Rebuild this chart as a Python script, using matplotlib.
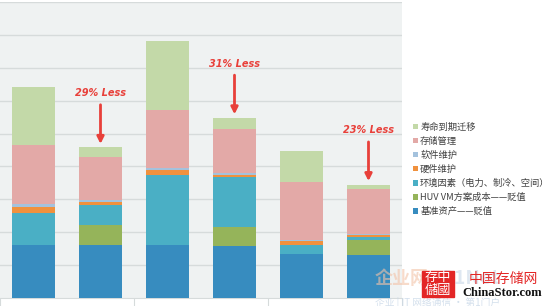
import numpy as np
import matplotlib.pyplot as plt
from matplotlib.patches import Rectangle

plt.rcParams['font.family'] = ['Noto Sans CJK SC', 'DejaVu Sans']

# stacked segments, bottom to top, six bars (3 groups of 2)
series = ['基准资产——贬值', 'HUV VM方案成本——贬值', '环境因素（电力、制冷、空间）',
          '硬件维护', '软件维护', '存储管理', '寿命到期迁移']
base_asset = [1.61, 1.61, 1.61, 1.58, 1.33, 1.30]
huv_vm = [0.0, 0.60, 0.0, 0.57, 0.0, 0.46]
environment = [0.97, 0.61, 2.12, 1.52, 0.28, 0.09]
hardware = [0.18, 0.09, 0.15, 0.06, 0.12, 0.06]
software = [0.09, 0.06, 0.06, 0.06, 0.03, 0.03]
storage_mgmt = [1.79, 1.33, 1.79, 1.36, 1.76, 1.36]
migration = [1.78, 0.28, 2.09, 0.33, 0.96, 0.15]
colors = ['#378cbf', '#95b45a', '#4aafc5', '#f0913e', '#a4c2dd', '#e3a9a7', '#c3d9a8']

notes = ['29% Less', '31% Less', '23% Less']
note_bars = [1, 3, 5]

values = [base_asset, huv_vm, environment, hardware, software, storage_mgmt, migration]
x = np.arange(6) + 0.5

fig = plt.figure(figsize=(5.54, 3.06), dpi=100)
ax = fig.add_axes([0.0, 8 / 306, 402 / 554, 296 / 306])
ax.set_facecolor('#eff2f2')

bottom = np.zeros(6)
for vals, col, name in zip(values, colors, series):
    ax.bar(x, vals, 0.64, bottom=bottom, color=col, label=name, zorder=3)
    bottom += np.array(vals)

ax.set_xlim(0, 6)
ax.set_ylim(0, 9)
ax.set_yticks(np.arange(1, 10))
ax.yaxis.grid(True, color='#d6dbdb', linewidth=1.0, zorder=0)
ax.tick_params(axis='y', left=False, labelleft=False)
ax.set_xticks([0, 2, 4, 6])
ax.tick_params(axis='x', direction='out', length=8, color='#d6dbdb', labelbottom=False)
for s in ['top', 'right', 'left']:
    ax.spines[s].set_visible(False)
ax.spines['bottom'].set_color('#d6dbdb')

for txt, b in zip(notes, note_bars):
    top = bottom[b]
    ax.annotate('', xy=(x[b], top + 0.02), xytext=(x[b], top + 1.38),
                arrowprops=dict(arrowstyle='-|>', color='#e8403a', lw=2.0,
                                mutation_scale=10), zorder=5)
    ax.text(x[b], top + 1.65, txt, color='#e8403a', fontsize=7, fontweight='bold',
            fontstyle='italic', ha='center', va='center', family='DejaVu Sans')

handles, labels = ax.get_legend_handles_labels()
leg = fig.legend(handles[::-1], labels[::-1], loc='upper left', bbox_to_anchor=(409 / 554, 1 - 119 / 306),
                 frameon=False, fontsize=6.7, handlelength=0.55, handleheight=0.55,
                 handletextpad=0.25, labelspacing=0.52, borderaxespad=0)
for t in leg.get_texts():
    t.set_color('#404040')

# watermark
fig.text(375 / 554, 1 - 278 / 306, '企业网', color='#f3c3a8', fontsize=13, alpha=0.6,
         fontweight='bold', va='center')
fig.text(440 / 554, 1 - 278 / 306, 'D1Net', color='#c9d8e8', fontsize=14, alpha=0.6,
         fontweight='bold', va='center')
fig.text(375 / 554, 1 - 303 / 306, '企业 | IT 网络通信 · 第1门户', color='#c9d8e8', fontsize=7,
         alpha=0.8, va='center')
fig.patches.append(Rectangle((422 / 554, 1 - 297 / 306), 32 / 554, 26 / 306,
                             transform=fig.transFigure, color='#e32626', zorder=5))
fig.text(438 / 554, 1 - 277.5 / 306, '存中', color='white', fontsize=9.5, ha='center',
         va='center', zorder=6)
fig.text(438 / 554, 1 - 290.5 / 306, '儲國', color='white', fontsize=9.5, ha='center',
         va='center', zorder=6)
fig.text(503 / 554, 1 - 279 / 306, '中国存储网', color='#e32626', fontsize=10, ha='center',
         va='center', zorder=6)
fig.text(502 / 554, 1 - 293 / 306, 'ChinaStor.com', color='#111111', fontsize=9, ha='center',
         va='center', fontweight='bold', family='Liberation Serif', zorder=6)

fig.savefig('out.png', dpi=100, facecolor='white')
